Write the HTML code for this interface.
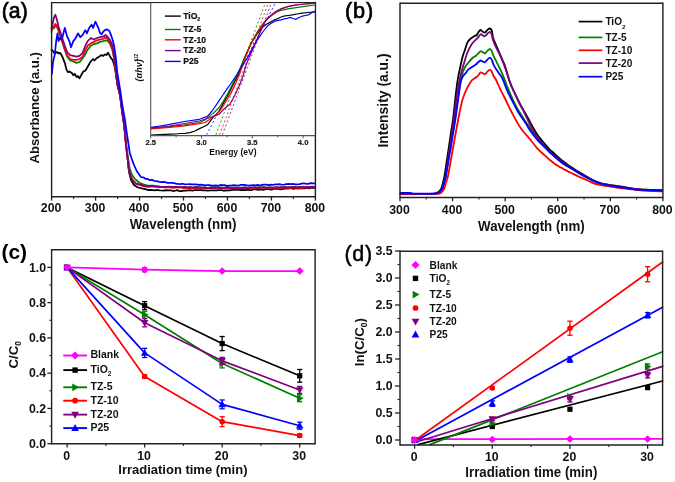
<!DOCTYPE html>
<html><head><meta charset="utf-8"><title>Figure</title><style>html,body{margin:0;padding:0;background:#fff;}body{width:675px;height:482px;overflow:hidden;}svg{display:block;filter:blur(0.3px);}</style></head><body>
<svg width="675" height="482" viewBox="0 0 675 482" font-family='"Liberation Sans", sans-serif'>
<rect x="0" y="0" width="675" height="482" fill="#fff"/>
<g>
<polyline points="51.60,49.70 53.10,51.20 54.70,53.50 57.00,52.00 58.60,53.50 60.10,52.80 62.40,56.70 64.80,62.90 66.30,69.10 67.90,72.20 69.40,71.40 71.80,73.00 73.30,75.30 74.90,73.80 76.40,76.90 78.00,76.10 79.50,78.40 81.10,75.30 83.40,71.40 85.30,70.70 87.70,66.80 90.80,61.30 93.00,59.00 94.50,60.50 96.50,58.20 99.00,56.70 101.50,55.10 103.20,55.90 105.00,54.30 106.50,55.10 108.00,52.80 109.40,55.10 111.00,58.20 112.50,59.80 114.10,64.40 115.70,72.20 117.50,85.00 120.00,95.00 122.00,110.00 124.20,125.00 126.00,145.00 127.80,160.00 129.00,172.00 131.00,180.00 134.00,185.00 138.00,187.50 144.00,188.86 146.20,189.36 148.40,190.09 150.60,189.99 152.80,190.11 155.00,190.26 157.20,189.98 159.40,190.34 161.60,190.50 163.80,190.71 166.00,190.13 168.20,190.38 170.40,190.23 172.60,190.88 174.80,190.77 177.00,190.19 179.20,191.03 181.40,191.02 183.60,190.74 185.80,190.70 188.00,190.27 190.20,190.12 192.40,190.56 194.60,190.12 196.80,190.21 199.00,190.23 201.20,190.02 203.40,190.39 205.60,190.34 207.80,190.68 210.00,190.37 212.20,190.45 214.40,190.30 216.60,190.42 218.80,190.20 221.00,190.01 223.20,190.62 225.40,190.59 227.60,190.42 229.80,190.27 232.00,189.89 234.20,189.78 236.40,189.80 238.60,189.57 240.80,190.17 243.00,189.80 245.20,190.16 247.40,189.70 249.60,190.16 251.80,190.02 254.00,189.21 256.20,189.35 258.40,189.93 260.60,189.49 262.80,189.90 265.00,189.33 267.20,188.99 269.40,189.45 271.60,189.53 273.80,189.00 276.00,188.77 278.20,188.92 280.40,189.42 282.60,189.17 284.80,188.52 287.00,188.57 289.20,188.37 291.40,188.27 293.60,188.86 295.80,188.24 298.00,188.52 300.20,188.35 302.40,188.06 304.60,188.48 306.80,187.88 309.00,188.28 311.20,187.75 313.40,187.96 314.50,188.00" fill="none" stroke="#000000" stroke-width="1.75" stroke-linejoin="round" stroke-linecap="round" />
<polyline points="51.60,32.00 51.90,27.00 53.90,28.50 55.40,25.50 57.00,27.00 58.60,31.00 61.70,40.50 64.80,50.00 67.10,56.50 70.20,60.50 73.30,61.50 76.40,62.90 79.50,62.10 82.70,58.20 85.30,54.30 87.70,49.70 90.80,45.80 93.90,44.20 97.00,43.40 100.10,41.90 103.20,41.10 105.60,40.30 107.90,41.10 110.20,44.20 112.50,50.40 114.10,58.50 115.60,71.50 117.50,85.00 120.00,95.00 122.00,110.00 124.20,125.00 126.00,143.00 127.80,156.00 129.70,168.50 132.00,175.00 134.90,178.80 139.00,182.50 145.00,184.98 147.20,185.43 149.40,185.72 151.60,185.54 153.80,185.70 156.00,186.23 158.20,186.25 160.40,186.83 162.60,186.83 164.80,186.85 167.00,186.91 169.20,187.11 171.40,186.70 173.60,187.01 175.80,186.79 178.00,187.50 180.20,186.77 182.40,187.49 184.60,186.86 186.80,187.45 189.00,187.17 191.20,187.27 193.40,187.70 195.60,186.99 197.80,187.07 200.00,187.87 202.20,187.52 204.40,187.15 206.60,187.97 208.80,187.94 211.00,187.20 213.20,187.49 215.40,187.24 217.60,187.41 219.80,187.70 222.00,187.30 224.20,187.79 226.40,187.22 228.60,187.34 230.80,187.93 233.00,187.57 235.20,187.59 237.40,187.76 239.60,187.66 241.80,187.59 244.00,187.27 246.20,187.88 248.40,188.07 250.60,188.07 252.80,187.77 255.00,187.47 257.20,187.46 259.40,187.74 261.60,187.70 263.80,187.18 266.00,187.27 268.20,187.37 270.40,187.49 272.60,187.74 274.80,187.44 277.00,187.00 279.20,187.70 281.40,187.32 283.60,187.38 285.80,187.08 288.00,187.24 290.20,187.18 292.40,187.50 294.60,186.87 296.80,187.25 299.00,186.89 301.20,187.33 303.40,186.71 305.60,186.90 307.80,186.94 310.00,187.18 312.20,186.62 314.40,186.96 314.50,187.00" fill="none" stroke="#008000" stroke-width="1.75" stroke-linejoin="round" stroke-linecap="round" />
<polyline points="51.60,30.00 51.90,25.60 53.90,27.10 55.40,24.00 57.00,26.00 58.60,30.20 61.70,39.50 64.80,48.90 67.10,55.10 70.20,59.00 73.30,59.80 76.40,59.80 79.50,59.00 82.70,56.70 85.30,50.40 87.70,45.80 90.80,43.40 93.90,41.90 97.00,40.30 100.10,39.50 103.20,38.80 105.60,37.20 107.90,39.50 110.20,42.70 112.50,48.90 114.10,58.00 115.60,71.50 117.50,85.00 120.00,95.00 122.00,110.00 124.20,125.00 126.00,145.00 127.80,160.00 129.00,171.00 132.00,179.50 136.00,184.00 142.00,185.78 144.20,186.39 146.40,186.61 148.60,186.97 150.80,186.56 153.00,186.71 155.20,186.74 157.40,186.92 159.60,187.49 161.80,187.00 164.00,187.40 166.20,187.16 168.40,187.27 170.60,187.44 172.80,187.85 175.00,187.68 177.20,187.19 179.40,187.47 181.60,187.39 183.80,188.09 186.00,188.07 188.20,188.10 190.40,188.15 192.60,188.11 194.80,188.32 197.00,188.22 199.20,187.76 201.40,188.33 203.60,188.03 205.80,188.31 208.00,188.17 210.20,188.08 212.40,188.05 214.60,188.14 216.80,188.03 219.00,187.86 221.20,188.49 223.40,188.47 225.60,188.64 227.80,188.37 230.00,188.25 232.20,188.42 234.40,187.87 236.60,188.36 238.80,188.15 241.00,187.91 243.20,187.93 245.40,188.21 247.60,187.96 249.80,188.14 252.00,188.26 254.20,188.07 256.40,187.82 258.60,188.14 260.80,187.90 263.00,187.89 265.20,187.84 267.40,187.99 269.60,187.72 271.80,188.22 274.00,188.45 276.20,187.91 278.40,188.17 280.60,188.32 282.80,187.48 285.00,187.53 287.20,188.09 289.40,188.09 291.60,187.87 293.80,187.40 296.00,187.59 298.20,187.96 300.40,187.94 302.60,187.80 304.80,187.20 307.00,187.73 309.20,187.23 311.40,187.48 313.60,186.90 314.50,187.20" fill="none" stroke="#ff0000" stroke-width="1.75" stroke-linejoin="round" stroke-linecap="round" />
<polyline points="51.60,28.00 52.30,25.60 53.80,18.00 55.40,14.70 57.00,20.00 58.60,27.10 61.70,36.40 64.80,45.80 67.10,52.00 70.20,55.10 73.30,55.90 76.40,56.70 79.50,55.90 82.70,52.80 85.30,45.80 87.70,41.10 90.80,38.00 93.90,39.50 97.00,38.00 100.10,37.20 103.20,36.40 105.60,34.90 107.90,37.20 110.20,40.30 112.50,45.80 114.10,55.10 115.70,69.10 117.20,83.10 120.00,95.00 122.00,112.00 124.20,126.00 126.00,145.00 127.80,160.00 129.00,171.00 132.00,179.00 136.00,183.50 142.00,184.95 144.20,185.67 146.40,185.82 148.60,186.27 150.80,185.86 153.00,186.02 155.20,186.63 157.40,186.73 159.60,186.59 161.80,187.00 164.00,186.78 166.20,187.17 168.40,186.62 170.60,186.75 172.80,187.40 175.00,186.96 177.20,186.91 179.40,187.44 181.60,187.33 183.80,186.94 186.00,187.34 188.20,187.48 190.40,187.07 192.60,187.55 194.80,187.11 197.00,187.34 199.20,187.15 201.40,187.30 203.60,188.04 205.80,187.56 208.00,188.13 210.20,187.67 212.40,187.86 214.60,188.14 216.80,187.97 219.00,187.45 221.20,187.88 223.40,187.92 225.60,187.51 227.80,187.44 230.00,188.14 232.20,187.81 234.40,187.52 236.60,187.76 238.80,187.55 241.00,188.07 243.20,187.80 245.40,187.42 247.60,188.05 249.80,187.38 252.00,187.54 254.20,187.29 256.40,187.92 258.60,187.34 260.80,187.69 263.00,187.29 265.20,187.62 267.40,187.79 269.60,187.64 271.80,187.55 274.00,187.54 276.20,187.47 278.40,187.58 280.60,187.10 282.80,187.41 285.00,187.17 287.20,187.70 289.40,187.74 291.60,186.92 293.80,186.96 296.00,187.44 298.20,187.29 300.40,186.76 302.60,187.31 304.80,187.47 307.00,186.94 309.20,186.81 311.40,186.95 313.60,187.22 314.50,186.80" fill="none" stroke="#800080" stroke-width="1.75" stroke-linejoin="round" stroke-linecap="round" />
<polyline points="51.90,73.80 53.10,61.30 54.70,55.10 56.20,41.10 57.50,33.30 58.60,41.10 59.60,38.00 60.90,39.50 62.40,37.20 64.80,27.90 67.10,36.40 69.40,41.10 71.00,47.30 73.30,41.10 75.70,38.00 78.00,33.30 80.30,37.20 82.70,34.90 85.30,30.20 86.90,33.30 89.20,27.90 91.60,24.80 93.10,27.90 95.40,21.70 97.00,24.80 98.60,28.70 100.10,33.30 101.70,34.10 103.20,31.80 104.80,30.20 107.10,29.40 109.40,31.00 111.00,34.90 112.50,39.50 114.10,45.80 115.70,56.70 117.20,72.20 120.50,92.00 122.80,108.00 125.00,120.00 126.80,133.00 128.60,145.00 129.80,153.00 131.80,159.00 134.00,165.00 137.00,171.60 141.10,177.22 143.30,177.26 145.50,178.81 147.70,178.92 149.90,180.23 152.10,179.86 154.30,181.00 156.50,181.18 158.70,181.69 160.90,182.14 163.10,181.77 165.30,182.18 167.50,182.83 169.70,182.76 171.90,182.93 174.10,183.06 176.30,183.79 178.50,183.96 180.70,184.06 182.90,183.70 185.10,184.49 187.30,184.25 189.50,184.10 191.70,184.40 193.90,184.46 196.10,184.25 198.30,184.78 200.50,184.69 202.70,184.96 204.90,185.36 207.10,185.18 209.30,185.04 211.50,185.52 213.70,185.72 215.90,185.31 218.10,185.75 220.30,184.95 222.50,185.09 224.70,185.16 226.90,185.88 229.10,185.66 231.30,185.65 233.50,185.23 235.70,185.39 237.90,185.71 240.10,184.98 242.30,184.96 244.50,184.89 246.70,185.27 248.90,185.61 251.10,185.35 253.30,185.21 255.50,185.30 257.70,184.94 259.90,185.55 262.10,184.92 264.30,184.73 266.50,184.70 268.70,185.08 270.90,184.53 273.10,185.00 275.30,184.43 277.50,184.46 279.70,184.07 281.90,184.75 284.10,184.59 286.30,184.23 288.50,183.84 290.70,184.10 292.90,183.93 295.10,184.27 297.30,184.28 299.50,184.03 301.70,183.55 303.90,183.25 306.10,183.94 308.30,183.91 310.50,183.13 312.70,183.36 314.50,183.30" fill="none" stroke="#0000ff" stroke-width="1.75" stroke-linejoin="round" stroke-linecap="round" />
</g>
<line x1="51.60" y1="2.60" x2="315.40" y2="2.60" stroke="#222" stroke-width="1.45" />
<line x1="51.60" y1="196.80" x2="315.40" y2="196.80" stroke="#222" stroke-width="1.45" />
<line x1="51.60" y1="1.80" x2="51.60" y2="197.60" stroke="#222" stroke-width="1.45" />
<line x1="315.40" y1="1.80" x2="315.40" y2="197.60" stroke="#222" stroke-width="1.45" />
<line x1="51.60" y1="196.80" x2="51.60" y2="200.60" stroke="#222" stroke-width="1.3" />
<text x="51.10" y="212.00" font-size="12.3" font-weight="bold" text-anchor="middle" fill="#111" >200</text>
<line x1="95.57" y1="196.80" x2="95.57" y2="200.60" stroke="#222" stroke-width="1.3" />
<text x="95.07" y="212.00" font-size="12.3" font-weight="bold" text-anchor="middle" fill="#111" >300</text>
<line x1="139.53" y1="196.80" x2="139.53" y2="200.60" stroke="#222" stroke-width="1.3" />
<text x="139.03" y="212.00" font-size="12.3" font-weight="bold" text-anchor="middle" fill="#111" >400</text>
<line x1="183.50" y1="196.80" x2="183.50" y2="200.60" stroke="#222" stroke-width="1.3" />
<text x="183.00" y="212.00" font-size="12.3" font-weight="bold" text-anchor="middle" fill="#111" >500</text>
<line x1="227.47" y1="196.80" x2="227.47" y2="200.60" stroke="#222" stroke-width="1.3" />
<text x="226.97" y="212.00" font-size="12.3" font-weight="bold" text-anchor="middle" fill="#111" >600</text>
<line x1="271.43" y1="196.80" x2="271.43" y2="200.60" stroke="#222" stroke-width="1.3" />
<text x="270.93" y="212.00" font-size="12.3" font-weight="bold" text-anchor="middle" fill="#111" >700</text>
<line x1="315.40" y1="196.80" x2="315.40" y2="200.60" stroke="#222" stroke-width="1.3" />
<text x="314.90" y="212.00" font-size="12.3" font-weight="bold" text-anchor="middle" fill="#111" >800</text>
<line x1="73.58" y1="196.80" x2="73.58" y2="199.00" stroke="#222" stroke-width="1.1" />
<line x1="117.55" y1="196.80" x2="117.55" y2="199.00" stroke="#222" stroke-width="1.1" />
<line x1="161.52" y1="196.80" x2="161.52" y2="199.00" stroke="#222" stroke-width="1.1" />
<line x1="205.48" y1="196.80" x2="205.48" y2="199.00" stroke="#222" stroke-width="1.1" />
<line x1="249.45" y1="196.80" x2="249.45" y2="199.00" stroke="#222" stroke-width="1.1" />
<line x1="293.42" y1="196.80" x2="293.42" y2="199.00" stroke="#222" stroke-width="1.1" />
<g transform="translate(183.10,228.70) scale(1,1.09)"><text x="0" y="0" font-size="13.3" font-weight="bold" text-anchor="middle" fill="#111" >Wavelength (nm)</text></g>
<text x="39.20" y="107.90" font-size="13.2" font-weight="bold" text-anchor="middle" fill="#111" transform="rotate(-90 39.2 107.9)">Absorbance (a.u.)</text>
<text x="1.80" y="17.80" font-size="21.2" font-weight="normal" text-anchor="start" fill="#000" stroke="#000" stroke-width="0.7">(a)</text>
<rect x="151.4" y="3.4" width="163.0" height="131.4" fill="#fff"/>
<line x1="206.50" y1="134.80" x2="275.00" y2="3.80" stroke="#0000ff" stroke-width="0.9" stroke-dasharray="2.2,2.2" opacity="0.85"/>
<line x1="215.90" y1="134.80" x2="265.00" y2="3.80" stroke="#008000" stroke-width="0.9" stroke-dasharray="2.2,2.2" opacity="0.85"/>
<line x1="219.60" y1="134.80" x2="268.00" y2="3.80" stroke="#ff0000" stroke-width="0.9" stroke-dasharray="2.2,2.2" opacity="0.85"/>
<line x1="222.40" y1="134.80" x2="271.00" y2="3.80" stroke="#800080" stroke-width="0.9" stroke-dasharray="2.2,2.2" opacity="0.85"/>
<polyline points="151.00,135.10 160.00,134.60 170.00,134.20 176.00,134.00 180.00,133.50 185.00,133.30 190.00,132.60 195.00,131.00 199.00,128.90 203.00,127.00 207.50,124.80 210.00,121.50 213.10,117.30 218.70,111.70 223.00,104.00 228.00,95.00 232.50,86.00 237.40,76.00 241.00,67.00 243.70,59.70 248.00,50.00 252.40,41.00 257.00,34.00 262.40,27.40 266.00,24.50 269.90,22.40 273.50,20.40 277.30,18.70 280.50,17.30 283.50,16.20 288.00,15.50 292.20,14.90 297.00,14.00 302.20,13.10 308.00,12.50 315.00,11.80" fill="none" stroke="#000000" stroke-width="1.2" stroke-linejoin="round" stroke-linecap="round" />
<polyline points="151.00,128.50 169.60,126.60 184.40,124.80 199.30,122.50 205.00,120.00 209.30,116.40 214.00,112.50 218.70,108.00 223.00,101.50 228.00,93.00 232.50,84.00 237.40,74.30 242.00,64.00 246.70,53.70 250.00,45.80 254.00,37.80 258.00,30.80 262.00,25.00 266.00,20.20 270.00,16.40 274.00,13.40 278.00,11.50 281.00,10.40 288.00,8.90 296.00,7.60 305.00,6.30 315.00,5.00" fill="none" stroke="#008000" stroke-width="1.2" stroke-linejoin="round" stroke-linecap="round" />
<polyline points="151.00,128.90 169.60,127.30 184.40,125.90 199.30,123.70 205.00,122.50 211.20,118.20 215.60,114.80 220.60,109.80 225.00,103.00 229.90,94.90 234.50,86.00 239.30,75.00 242.50,65.50 246.00,56.00 250.00,45.50 254.50,37.50 258.70,30.50 262.50,25.00 266.10,20.30 270.00,16.50 273.60,13.90 277.50,11.20 281.00,8.90 288.50,6.30 296.00,4.90 305.00,4.00 315.00,3.50" fill="none" stroke="#ff0000" stroke-width="1.2" stroke-linejoin="round" stroke-linecap="round" />
<polyline points="151.00,128.10 169.60,126.00 184.40,123.50 199.30,121.00 210.00,117.50 218.70,114.50 224.00,109.00 229.90,104.20 235.00,95.00 239.30,85.50 243.00,76.00 246.20,64.70 250.50,54.50 254.70,44.80 258.00,37.00 261.10,30.00 264.90,21.80 268.50,17.50 272.50,14.00 276.50,11.00 281.00,8.90 288.50,6.50 296.00,5.00 305.00,4.00 315.00,3.10" fill="none" stroke="#800080" stroke-width="1.2" stroke-linejoin="round" stroke-linecap="round" />
<polyline points="151.00,127.40 160.00,126.00 169.60,124.40 184.40,121.50 199.30,119.30 207.50,116.40 212.00,111.00 216.80,104.20 221.50,97.00 226.20,90.20 230.50,84.00 234.60,78.00 239.00,71.00 244.00,63.30 248.50,56.00 252.40,48.50 256.00,42.00 259.90,36.10 263.50,31.00 267.40,26.10 271.00,23.50 274.80,21.20 278.00,20.30 281.00,19.90 284.80,18.70 287.00,18.50 289.80,17.40 293.00,18.50 296.00,19.30 299.00,17.50 302.20,16.20 305.50,15.50 308.40,14.90 312.00,12.50 315.00,11.20" fill="none" stroke="#0000ff" stroke-width="1.2" stroke-linejoin="round" stroke-linecap="round" />
<line x1="150.70" y1="2.60" x2="150.70" y2="136.10" stroke="#555" stroke-width="1.1" />
<line x1="150.70" y1="135.60" x2="315.20" y2="135.60" stroke="#555" stroke-width="1.1" />
<line x1="150.70" y1="135.60" x2="150.70" y2="138.40" stroke="#555" stroke-width="1.0" />
<text x="150.70" y="145.10" font-size="7.6" font-weight="bold" text-anchor="middle" fill="#111" stroke="#111" stroke-width="0.15">2.5</text>
<line x1="201.50" y1="135.60" x2="201.50" y2="138.40" stroke="#555" stroke-width="1.0" />
<text x="201.50" y="145.10" font-size="7.6" font-weight="bold" text-anchor="middle" fill="#111" stroke="#111" stroke-width="0.15">3.0</text>
<line x1="252.30" y1="135.60" x2="252.30" y2="138.40" stroke="#555" stroke-width="1.0" />
<text x="252.30" y="145.10" font-size="7.6" font-weight="bold" text-anchor="middle" fill="#111" stroke="#111" stroke-width="0.15">3.5</text>
<line x1="303.10" y1="135.60" x2="303.10" y2="138.40" stroke="#555" stroke-width="1.0" />
<text x="303.10" y="145.10" font-size="7.6" font-weight="bold" text-anchor="middle" fill="#111" stroke="#111" stroke-width="0.15">4.0</text>
<line x1="176.10" y1="135.60" x2="176.10" y2="137.40" stroke="#555" stroke-width="0.9" />
<line x1="226.90" y1="135.60" x2="226.90" y2="137.40" stroke="#555" stroke-width="0.9" />
<line x1="277.70" y1="135.60" x2="277.70" y2="137.40" stroke="#555" stroke-width="0.9" />
<text x="232.90" y="154.90" font-size="8.5" font-weight="bold" text-anchor="middle" fill="#111" >Energy (eV)</text>
<text x="142.0" y="81.4" font-size="9" font-weight="bold" font-style="italic" fill="#111" transform="rotate(-90 142.0 81.4)">(&#945;h&#957;)<tspan dy="-3.6" dx="-1.6" font-size="5.0" font-style="normal">1/2</tspan></text>
<line x1="164.90" y1="16.10" x2="180.70" y2="16.10" stroke="#000000" stroke-width="1.4" />
<text x="183.20" y="18.80" font-size="8.6" font-weight="bold" text-anchor="start" fill="#111" stroke="#111" stroke-width="0.2">TiO<tspan dy="2.2" font-size="5">2</tspan></text>
<line x1="164.90" y1="29.50" x2="180.70" y2="29.50" stroke="#008000" stroke-width="1.4" />
<text x="183.20" y="32.20" font-size="8.6" font-weight="bold" text-anchor="start" fill="#111" stroke="#111" stroke-width="0.2">TZ-5</text>
<line x1="164.90" y1="39.80" x2="180.70" y2="39.80" stroke="#ff0000" stroke-width="1.4" />
<text x="183.20" y="42.50" font-size="8.6" font-weight="bold" text-anchor="start" fill="#111" stroke="#111" stroke-width="0.2">TZ-10</text>
<line x1="164.90" y1="50.60" x2="180.70" y2="50.60" stroke="#800080" stroke-width="1.4" />
<text x="183.20" y="53.30" font-size="8.6" font-weight="bold" text-anchor="start" fill="#111" stroke="#111" stroke-width="0.2">TZ-20</text>
<line x1="164.90" y1="61.40" x2="180.70" y2="61.40" stroke="#0000ff" stroke-width="1.4" />
<text x="183.20" y="64.10" font-size="8.6" font-weight="bold" text-anchor="start" fill="#111" stroke="#111" stroke-width="0.2">P25</text>
<path d="M400.50,193.80 C405.42,193.80 424.25,193.83 430.00,193.80 C435.75,193.77 433.78,193.77 435.00,193.60 C436.22,193.43 436.55,193.20 437.30,192.80 C438.05,192.40 438.78,192.03 439.50,191.20 C440.22,190.37 441.02,189.25 441.60,187.80 C442.18,186.35 442.52,184.47 443.00,182.50 C443.48,180.53 443.88,179.50 444.50,176.00 C445.12,172.50 445.97,166.33 446.70,161.50 C447.43,156.67 448.18,151.83 448.90,147.00 C449.62,142.17 450.28,137.33 451.00,132.50 C451.72,127.67 452.50,123.50 453.20,118.00 C453.90,112.50 454.48,105.65 455.20,99.50 C455.92,93.35 456.72,86.25 457.50,81.10 C458.28,75.95 459.08,72.55 459.90,68.60 C460.72,64.65 461.57,60.50 462.40,57.40 C463.23,54.30 464.05,52.50 464.90,50.00 C465.75,47.50 466.55,44.28 467.50,42.40 C468.45,40.52 469.47,39.73 470.60,38.70 C471.73,37.67 473.27,36.82 474.30,36.20 C475.33,35.58 476.07,35.73 476.80,35.00 C477.53,34.27 478.07,32.63 478.70,31.80 C479.33,30.97 479.98,30.05 480.60,30.00 C481.22,29.95 481.68,31.08 482.40,31.50 C483.12,31.92 484.07,32.75 484.90,32.50 C485.73,32.25 486.57,30.67 487.40,30.00 C488.23,29.33 489.17,28.40 489.90,28.50 C490.63,28.60 491.28,29.12 491.80,30.60 C492.32,32.08 492.48,35.43 493.00,37.40 C493.52,39.37 493.97,40.12 494.90,42.40 C495.83,44.68 497.35,48.18 498.60,51.10 C499.85,54.02 501.33,57.40 502.40,59.90 C503.47,62.40 503.90,62.78 505.00,66.10 C506.10,69.42 507.83,76.23 509.00,79.80 C510.17,83.37 510.95,85.08 512.00,87.50 C513.05,89.92 514.22,92.05 515.30,94.30 C516.38,96.55 517.47,98.92 518.50,101.00 C519.53,103.08 520.50,104.97 521.50,106.80 C522.50,108.63 523.32,109.92 524.50,112.00 C525.68,114.08 527.18,116.72 528.60,119.30 C530.02,121.88 531.57,124.98 533.00,127.50 C534.43,130.02 535.78,132.32 537.20,134.40 C538.62,136.48 540.07,138.22 541.50,140.00 C542.93,141.78 544.38,143.47 545.80,145.10 C547.22,146.73 548.57,148.37 550.00,149.80 C551.43,151.23 552.98,152.42 554.40,153.70 C555.82,154.98 557.07,156.25 558.50,157.50 C559.93,158.75 561.42,159.95 563.00,161.20 C564.58,162.45 566.22,163.75 568.00,165.00 C569.78,166.25 571.87,167.53 573.70,168.70 C575.53,169.87 577.22,170.92 579.00,172.00 C580.78,173.08 582.57,174.12 584.40,175.20 C586.23,176.28 588.20,177.50 590.00,178.50 C591.80,179.50 593.45,180.45 595.20,181.20 C596.95,181.95 598.72,182.50 600.50,183.00 C602.28,183.50 604.15,183.83 605.90,184.20 C607.65,184.57 609.20,184.92 611.00,185.20 C612.80,185.48 613.97,185.50 616.70,185.90 C619.43,186.30 623.82,187.05 627.40,187.60 C630.98,188.15 634.43,188.83 638.20,189.20 C641.97,189.57 646.03,189.63 650.00,189.80 C653.97,189.97 660.00,190.13 662.00,190.20" fill="none" stroke="#000000" stroke-width="1.8" stroke-linejoin="round" stroke-linecap="round" />
<path d="M400.50,193.90 C405.42,193.90 424.08,193.93 430.00,193.90 C435.92,193.87 434.58,193.85 436.00,193.70 C437.42,193.55 437.67,193.42 438.50,193.00 C439.33,192.58 440.25,192.07 441.00,191.20 C441.75,190.33 442.42,189.33 443.00,187.80 C443.58,186.27 444.00,183.97 444.50,182.00 C445.00,180.03 445.38,179.42 446.00,176.00 C446.62,172.58 447.47,166.33 448.20,161.50 C448.93,156.67 449.67,151.83 450.40,147.00 C451.13,142.17 451.87,137.33 452.60,132.50 C453.33,127.67 454.07,122.75 454.80,118.00 C455.53,113.25 456.30,108.67 457.00,104.00 C457.70,99.33 458.30,94.43 459.00,90.00 C459.70,85.57 460.22,81.17 461.20,77.40 C462.18,73.63 463.65,69.92 464.90,67.40 C466.15,64.88 467.43,63.87 468.70,62.30 C469.97,60.73 471.25,59.13 472.50,58.00 C473.75,56.87 475.17,56.33 476.20,55.50 C477.23,54.67 477.97,53.73 478.70,53.00 C479.43,52.27 479.87,51.20 480.60,51.10 C481.33,51.00 482.38,52.02 483.10,52.40 C483.82,52.78 484.18,53.65 484.90,53.40 C485.62,53.15 486.57,51.65 487.40,50.90 C488.23,50.15 489.17,48.87 489.90,48.90 C490.63,48.93 491.18,49.90 491.80,51.10 C492.42,52.30 492.67,54.02 493.60,56.10 C494.53,58.18 496.15,61.10 497.40,63.60 C498.65,66.10 499.97,68.62 501.10,71.10 C502.23,73.58 503.22,76.02 504.20,78.50 C505.18,80.98 506.03,83.58 507.00,86.00 C507.97,88.42 508.97,90.58 510.00,93.00 C511.03,95.42 512.03,98.00 513.20,100.50 C514.37,103.00 515.62,105.57 517.00,108.00 C518.38,110.43 520.08,112.85 521.50,115.10 C522.92,117.35 524.12,119.43 525.50,121.50 C526.88,123.57 528.55,125.67 529.80,127.50 C531.05,129.33 531.77,130.75 533.00,132.50 C534.23,134.25 535.78,136.25 537.20,138.00 C538.62,139.75 540.07,141.37 541.50,143.00 C542.93,144.63 544.38,146.25 545.80,147.80 C547.22,149.35 548.57,150.90 550.00,152.30 C551.43,153.70 552.98,154.95 554.40,156.20 C555.82,157.45 557.07,158.63 558.50,159.80 C559.93,160.97 561.42,162.07 563.00,163.20 C564.58,164.33 566.22,165.48 568.00,166.60 C569.78,167.72 571.87,168.80 573.70,169.90 C575.53,171.00 577.22,172.13 579.00,173.20 C580.78,174.27 582.57,175.32 584.40,176.30 C586.23,177.28 588.20,178.22 590.00,179.10 C591.80,179.98 593.45,180.88 595.20,181.60 C596.95,182.32 598.72,182.88 600.50,183.40 C602.28,183.92 603.20,184.17 605.90,184.70 C608.60,185.23 613.12,186.00 616.70,186.60 C620.28,187.20 623.82,187.77 627.40,188.30 C630.98,188.83 634.43,189.43 638.20,189.80 C641.97,190.17 646.03,190.32 650.00,190.50 C653.97,190.68 660.00,190.83 662.00,190.90" fill="none" stroke="#008000" stroke-width="1.8" stroke-linejoin="round" stroke-linecap="round" />
<path d="M400.50,194.10 C405.42,194.10 423.92,194.13 430.00,194.10 C436.08,194.07 435.30,194.03 437.00,193.90 C438.70,193.77 439.28,193.70 440.20,193.30 C441.12,192.90 441.78,192.42 442.50,191.50 C443.22,190.58 443.88,189.38 444.50,187.80 C445.12,186.22 445.62,183.97 446.20,182.00 C446.78,180.03 447.27,179.42 448.00,176.00 C448.73,172.58 449.73,166.33 450.60,161.50 C451.47,156.67 452.33,151.83 453.20,147.00 C454.07,142.17 454.92,137.33 455.80,132.50 C456.68,127.67 457.72,122.08 458.50,118.00 C459.28,113.92 459.85,111.00 460.50,108.00 C461.15,105.00 461.45,103.03 462.40,100.00 C463.35,96.97 464.73,92.95 466.20,89.80 C467.67,86.65 470.15,82.77 471.20,81.10 C472.25,79.43 471.67,80.43 472.50,79.80 C473.33,79.17 475.17,78.13 476.20,77.30 C477.23,76.47 477.97,75.63 478.70,74.80 C479.43,73.97 479.87,72.52 480.60,72.30 C481.33,72.08 482.38,73.18 483.10,73.50 C483.82,73.82 484.18,74.50 484.90,74.20 C485.62,73.90 486.57,72.47 487.40,71.70 C488.23,70.93 489.17,69.60 489.90,69.60 C490.63,69.60 491.18,70.63 491.80,71.70 C492.42,72.77 492.88,74.62 493.60,76.00 C494.32,77.38 494.92,77.63 496.10,80.00 C497.28,82.37 499.38,87.45 500.70,90.20 C502.02,92.95 502.95,94.43 504.00,96.50 C505.05,98.57 506.00,100.52 507.00,102.60 C508.00,104.68 508.97,106.92 510.00,109.00 C511.03,111.08 512.03,112.93 513.20,115.10 C514.37,117.27 515.78,119.88 517.00,122.00 C518.22,124.12 519.25,125.97 520.50,127.80 C521.75,129.63 523.15,131.37 524.50,133.00 C525.85,134.63 527.18,135.93 528.60,137.60 C530.02,139.27 531.57,141.22 533.00,143.00 C534.43,144.78 535.78,146.72 537.20,148.30 C538.62,149.88 540.07,151.17 541.50,152.50 C542.93,153.83 544.38,155.05 545.80,156.30 C547.22,157.55 548.57,158.82 550.00,160.00 C551.43,161.18 552.98,162.37 554.40,163.40 C555.82,164.43 557.07,165.32 558.50,166.20 C559.93,167.08 561.42,167.82 563.00,168.70 C564.58,169.58 566.22,170.60 568.00,171.50 C569.78,172.40 571.87,173.23 573.70,174.10 C575.53,174.97 577.22,175.87 579.00,176.70 C580.78,177.53 582.57,178.28 584.40,179.10 C586.23,179.92 588.20,180.82 590.00,181.60 C591.80,182.38 593.45,183.23 595.20,183.80 C596.95,184.37 598.72,184.65 600.50,185.00 C602.28,185.35 603.20,185.48 605.90,185.90 C608.60,186.32 613.12,187.02 616.70,187.50 C620.28,187.98 623.82,188.38 627.40,188.80 C630.98,189.22 634.43,189.67 638.20,190.00 C641.97,190.33 646.03,190.58 650.00,190.80 C653.97,191.02 660.00,191.22 662.00,191.30" fill="none" stroke="#ff0000" stroke-width="1.8" stroke-linejoin="round" stroke-linecap="round" />
<path d="M400.50,193.90 C405.42,193.90 424.17,193.93 430.00,193.90 C435.83,193.87 434.17,193.85 435.50,193.70 C436.83,193.55 437.17,193.42 438.00,193.00 C438.83,192.58 439.75,192.07 440.50,191.20 C441.25,190.33 441.92,189.33 442.50,187.80 C443.08,186.27 443.50,183.97 444.00,182.00 C444.50,180.03 444.88,179.42 445.50,176.00 C446.12,172.58 446.97,166.33 447.70,161.50 C448.43,156.67 449.18,151.83 449.90,147.00 C450.62,142.17 451.28,137.33 452.00,132.50 C452.72,127.67 453.50,123.42 454.20,118.00 C454.90,112.58 455.35,106.15 456.20,100.00 C457.05,93.85 458.27,86.33 459.30,81.10 C460.33,75.87 461.45,72.13 462.40,68.60 C463.35,65.07 464.15,62.60 465.00,59.90 C465.85,57.20 466.47,54.90 467.50,52.40 C468.53,49.90 469.95,46.88 471.20,44.90 C472.45,42.92 473.85,41.75 475.00,40.50 C476.15,39.25 477.17,38.43 478.10,37.40 C479.03,36.37 479.77,34.60 480.60,34.30 C481.43,34.00 482.38,35.28 483.10,35.60 C483.82,35.92 484.18,36.52 484.90,36.20 C485.62,35.88 486.57,34.43 487.40,33.70 C488.23,32.97 489.23,31.80 489.90,31.80 C490.57,31.80 490.88,32.35 491.40,33.70 C491.92,35.05 492.22,37.62 493.00,39.90 C493.78,42.18 494.95,44.90 496.10,47.40 C497.25,49.90 498.65,52.20 499.90,54.90 C501.15,57.60 502.42,60.58 503.60,63.60 C504.78,66.62 505.93,69.93 507.00,73.00 C508.07,76.07 509.00,79.25 510.00,82.00 C511.00,84.75 511.92,87.00 513.00,89.50 C514.08,92.00 515.33,94.50 516.50,97.00 C517.67,99.50 518.75,102.00 520.00,104.50 C521.25,107.00 522.57,109.17 524.00,112.00 C525.43,114.83 527.10,118.50 528.60,121.50 C530.10,124.50 531.57,127.42 533.00,130.00 C534.43,132.58 535.78,134.92 537.20,137.00 C538.62,139.08 540.07,140.75 541.50,142.50 C542.93,144.25 544.38,145.92 545.80,147.50 C547.22,149.08 548.57,150.62 550.00,152.00 C551.43,153.38 552.98,154.60 554.40,155.80 C555.82,157.00 557.07,158.07 558.50,159.20 C559.93,160.33 561.42,161.47 563.00,162.60 C564.58,163.73 566.22,164.85 568.00,166.00 C569.78,167.15 571.87,168.37 573.70,169.50 C575.53,170.63 577.22,171.72 579.00,172.80 C580.78,173.88 582.57,174.97 584.40,176.00 C586.23,177.03 588.20,178.08 590.00,179.00 C591.80,179.92 593.45,180.78 595.20,181.50 C596.95,182.22 598.72,182.78 600.50,183.30 C602.28,183.82 603.20,184.07 605.90,184.60 C608.60,185.13 613.12,185.90 616.70,186.50 C620.28,187.10 623.82,187.67 627.40,188.20 C630.98,188.73 634.43,189.35 638.20,189.70 C641.97,190.05 646.03,190.13 650.00,190.30 C653.97,190.47 660.00,190.63 662.00,190.70" fill="none" stroke="#800080" stroke-width="1.8" stroke-linejoin="round" stroke-linecap="round" />
<path d="M400.50,193.00 C402.08,193.00 407.58,192.90 410.00,193.00 C412.42,193.10 411.67,193.50 415.00,193.60 C418.33,193.70 426.67,193.63 430.00,193.60 C433.33,193.57 433.75,193.57 435.00,193.40 C436.25,193.23 436.67,193.00 437.50,192.60 C438.33,192.20 439.17,191.80 440.00,191.00 C440.83,190.20 441.83,189.30 442.50,187.80 C443.17,186.30 443.45,183.97 444.00,182.00 C444.55,180.03 445.10,179.42 445.80,176.00 C446.50,172.58 447.35,166.33 448.20,161.50 C449.05,156.67 450.07,151.83 450.90,147.00 C451.73,142.17 452.42,137.33 453.20,132.50 C453.98,127.67 454.78,123.42 455.60,118.00 C456.42,112.58 457.17,106.35 458.10,100.00 C459.03,93.65 459.85,84.50 461.20,79.90 C462.55,75.30 464.95,74.18 466.20,72.40 C467.45,70.62 467.65,70.15 468.70,69.20 C469.75,68.25 471.25,67.53 472.50,66.70 C473.75,65.87 475.17,65.03 476.20,64.20 C477.23,63.37 477.97,62.32 478.70,61.70 C479.43,61.08 479.87,60.50 480.60,60.50 C481.33,60.50 482.38,61.40 483.10,61.70 C483.82,62.00 484.18,62.65 484.90,62.30 C485.62,61.95 486.57,60.38 487.40,59.60 C488.23,58.82 489.17,57.55 489.90,57.60 C490.63,57.65 491.18,58.70 491.80,59.90 C492.42,61.10 492.67,62.93 493.60,64.80 C494.53,66.67 495.93,68.82 497.40,71.10 C498.87,73.38 500.80,75.32 502.40,78.50 C504.00,81.68 505.73,87.20 507.00,90.20 C508.27,93.20 508.97,94.43 510.00,96.50 C511.03,98.57 512.03,100.35 513.20,102.60 C514.37,104.85 515.62,107.58 517.00,110.00 C518.38,112.42 520.08,114.93 521.50,117.10 C522.92,119.27 524.28,121.10 525.50,123.00 C526.72,124.90 527.55,126.58 528.80,128.50 C530.05,130.42 531.60,132.63 533.00,134.50 C534.40,136.37 535.78,138.08 537.20,139.70 C538.62,141.32 540.07,142.77 541.50,144.20 C542.93,145.63 544.38,146.92 545.80,148.30 C547.22,149.68 548.57,151.17 550.00,152.50 C551.43,153.83 552.98,155.05 554.40,156.30 C555.82,157.55 557.07,158.82 558.50,160.00 C559.93,161.18 561.42,162.30 563.00,163.40 C564.58,164.50 566.22,165.53 568.00,166.60 C569.78,167.67 571.87,168.73 573.70,169.80 C575.53,170.87 577.22,171.92 579.00,173.00 C580.78,174.08 582.57,175.30 584.40,176.30 C586.23,177.30 588.20,178.12 590.00,179.00 C591.80,179.88 593.45,180.85 595.20,181.60 C596.95,182.35 598.72,182.97 600.50,183.50 C602.28,184.03 603.20,184.28 605.90,184.80 C608.60,185.32 613.12,186.03 616.70,186.60 C620.28,187.17 623.82,187.70 627.40,188.20 C630.98,188.70 634.43,189.27 638.20,189.60 C641.97,189.93 646.03,190.05 650.00,190.20 C653.97,190.35 660.00,190.45 662.00,190.50" fill="none" stroke="#0000ff" stroke-width="1.8" stroke-linejoin="round" stroke-linecap="round" />
<line x1="400.00" y1="3.30" x2="662.90" y2="3.30" stroke="#222" stroke-width="1.45" />
<line x1="400.00" y1="197.40" x2="662.90" y2="197.40" stroke="#222" stroke-width="1.45" />
<line x1="400.00" y1="2.50" x2="400.00" y2="198.20" stroke="#222" stroke-width="1.45" />
<line x1="662.90" y1="2.50" x2="662.90" y2="198.20" stroke="#222" stroke-width="1.45" />
<line x1="400.00" y1="197.40" x2="400.00" y2="201.20" stroke="#222" stroke-width="1.3" />
<text x="399.50" y="214.00" font-size="12.3" font-weight="bold" text-anchor="middle" fill="#111" >300</text>
<line x1="452.58" y1="197.40" x2="452.58" y2="201.20" stroke="#222" stroke-width="1.3" />
<text x="452.08" y="214.00" font-size="12.3" font-weight="bold" text-anchor="middle" fill="#111" >400</text>
<line x1="505.16" y1="197.40" x2="505.16" y2="201.20" stroke="#222" stroke-width="1.3" />
<text x="504.66" y="214.00" font-size="12.3" font-weight="bold" text-anchor="middle" fill="#111" >500</text>
<line x1="557.74" y1="197.40" x2="557.74" y2="201.20" stroke="#222" stroke-width="1.3" />
<text x="557.24" y="214.00" font-size="12.3" font-weight="bold" text-anchor="middle" fill="#111" >600</text>
<line x1="610.32" y1="197.40" x2="610.32" y2="201.20" stroke="#222" stroke-width="1.3" />
<text x="609.82" y="214.00" font-size="12.3" font-weight="bold" text-anchor="middle" fill="#111" >700</text>
<line x1="662.90" y1="197.40" x2="662.90" y2="201.20" stroke="#222" stroke-width="1.3" />
<text x="662.40" y="214.00" font-size="12.3" font-weight="bold" text-anchor="middle" fill="#111" >800</text>
<line x1="426.29" y1="197.40" x2="426.29" y2="199.60" stroke="#222" stroke-width="1.1" />
<line x1="478.87" y1="197.40" x2="478.87" y2="199.60" stroke="#222" stroke-width="1.1" />
<line x1="531.45" y1="197.40" x2="531.45" y2="199.60" stroke="#222" stroke-width="1.1" />
<line x1="584.03" y1="197.40" x2="584.03" y2="199.60" stroke="#222" stroke-width="1.1" />
<line x1="636.61" y1="197.40" x2="636.61" y2="199.60" stroke="#222" stroke-width="1.1" />
<g transform="translate(531.40,230.90) scale(1,1.09)"><text x="0" y="0" font-size="13.3" font-weight="bold" text-anchor="middle" fill="#111" >Wavelength (nm)</text></g>
<text x="388.00" y="100.50" font-size="13.9" font-weight="bold" text-anchor="middle" fill="#111" transform="rotate(-90 388.0 100.5)">Intensity (a.u.)</text>
<text x="345.00" y="18.30" font-size="21.7" font-weight="normal" text-anchor="start" fill="#000" stroke="#000" stroke-width="0.7" letter-spacing="0.8">(b)</text>
<line x1="578.60" y1="21.60" x2="602.40" y2="21.60" stroke="#000000" stroke-width="1.7" />
<text x="605.40" y="25.30" font-size="10.1" font-weight="bold" text-anchor="start" fill="#111" >TiO<tspan dy="3.4" font-size="6.2">2</tspan></text>
<line x1="578.60" y1="37.40" x2="602.40" y2="37.40" stroke="#008000" stroke-width="1.7" />
<text x="605.40" y="41.10" font-size="10.1" font-weight="bold" text-anchor="start" fill="#111" >TZ-5</text>
<line x1="578.60" y1="50.30" x2="602.40" y2="50.30" stroke="#ff0000" stroke-width="1.7" />
<text x="605.40" y="54.00" font-size="10.1" font-weight="bold" text-anchor="start" fill="#111" >TZ-10</text>
<line x1="578.60" y1="63.10" x2="602.40" y2="63.10" stroke="#800080" stroke-width="1.7" />
<text x="605.40" y="66.80" font-size="10.1" font-weight="bold" text-anchor="start" fill="#111" >TZ-20</text>
<line x1="578.60" y1="76.70" x2="602.40" y2="76.70" stroke="#0000ff" stroke-width="1.7" />
<text x="605.40" y="80.40" font-size="10.1" font-weight="bold" text-anchor="start" fill="#111" >P25</text>
<polyline points="67.10,267.40 144.63,305.66 222.16,343.56 299.69,375.82" fill="none" stroke="#000000" stroke-width="1.7" stroke-linejoin="round" stroke-linecap="round" />
<polyline points="67.10,267.40 144.63,314.82 222.16,363.48 299.69,398.21" fill="none" stroke="#008000" stroke-width="1.7" stroke-linejoin="round" stroke-linecap="round" />
<polyline points="67.10,267.40 144.63,376.53 222.16,421.66 299.69,435.59" fill="none" stroke="#ff0000" stroke-width="1.7" stroke-linejoin="round" stroke-linecap="round" />
<polyline points="67.10,267.40 144.63,322.76 222.16,360.84 299.69,389.93" fill="none" stroke="#800080" stroke-width="1.7" stroke-linejoin="round" stroke-linecap="round" />
<polyline points="67.10,267.40 144.63,352.91 222.16,404.39 299.69,425.72" fill="none" stroke="#0000ff" stroke-width="1.7" stroke-linejoin="round" stroke-linecap="round" />
<polyline points="67.10,267.40 144.63,269.69 222.16,271.10 299.69,271.10" fill="none" stroke="#ff00ff" stroke-width="1.7" stroke-linejoin="round" stroke-linecap="round" />
<rect x="64.49" y="264.79" width="5.22" height="5.22" fill="#000000"/>
<line x1="144.63" y1="301.60" x2="144.63" y2="309.71" stroke="#000000" stroke-width="1.3" />
<line x1="142.03" y1="301.60" x2="147.23" y2="301.60" stroke="#000000" stroke-width="1.3" />
<line x1="142.03" y1="309.71" x2="147.23" y2="309.71" stroke="#000000" stroke-width="1.3" />
<rect x="142.02" y="303.05" width="5.22" height="5.22" fill="#000000"/>
<line x1="222.16" y1="336.51" x2="222.16" y2="350.61" stroke="#000000" stroke-width="1.3" />
<line x1="219.56" y1="336.51" x2="224.76" y2="336.51" stroke="#000000" stroke-width="1.3" />
<line x1="219.56" y1="350.61" x2="224.76" y2="350.61" stroke="#000000" stroke-width="1.3" />
<rect x="219.55" y="340.95" width="5.22" height="5.22" fill="#000000"/>
<line x1="299.69" y1="369.48" x2="299.69" y2="382.17" stroke="#000000" stroke-width="1.3" />
<line x1="297.09" y1="369.48" x2="302.29" y2="369.48" stroke="#000000" stroke-width="1.3" />
<line x1="297.09" y1="382.17" x2="302.29" y2="382.17" stroke="#000000" stroke-width="1.3" />
<rect x="297.08" y="373.21" width="5.22" height="5.22" fill="#000000"/>
<polygon points="71.02,267.40 64.36,263.68 64.36,271.12" fill="#008000"/>
<line x1="144.63" y1="311.30" x2="144.63" y2="318.35" stroke="#008000" stroke-width="1.3" />
<line x1="142.03" y1="311.30" x2="147.23" y2="311.30" stroke="#008000" stroke-width="1.3" />
<line x1="142.03" y1="318.35" x2="147.23" y2="318.35" stroke="#008000" stroke-width="1.3" />
<polygon points="148.54,314.82 141.89,311.11 141.89,318.54" fill="#008000"/>
<line x1="222.16" y1="359.08" x2="222.16" y2="367.89" stroke="#008000" stroke-width="1.3" />
<line x1="219.56" y1="359.08" x2="224.76" y2="359.08" stroke="#008000" stroke-width="1.3" />
<line x1="219.56" y1="367.89" x2="224.76" y2="367.89" stroke="#008000" stroke-width="1.3" />
<polygon points="226.07,363.48 219.42,359.76 219.42,367.20" fill="#008000"/>
<line x1="299.69" y1="394.69" x2="299.69" y2="401.74" stroke="#008000" stroke-width="1.3" />
<line x1="297.09" y1="394.69" x2="302.29" y2="394.69" stroke="#008000" stroke-width="1.3" />
<line x1="297.09" y1="401.74" x2="302.29" y2="401.74" stroke="#008000" stroke-width="1.3" />
<polygon points="303.61,398.21 296.95,394.50 296.95,401.93" fill="#008000"/>
<circle cx="67.10" cy="267.40" r="2.75" fill="#ff0000"/>
<line x1="144.63" y1="374.77" x2="144.63" y2="378.29" stroke="#ff0000" stroke-width="1.3" />
<line x1="142.03" y1="374.77" x2="147.23" y2="374.77" stroke="#ff0000" stroke-width="1.3" />
<line x1="142.03" y1="378.29" x2="147.23" y2="378.29" stroke="#ff0000" stroke-width="1.3" />
<circle cx="144.63" cy="376.53" r="2.75" fill="#ff0000"/>
<line x1="222.16" y1="416.73" x2="222.16" y2="426.60" stroke="#ff0000" stroke-width="1.3" />
<line x1="219.56" y1="416.73" x2="224.76" y2="416.73" stroke="#ff0000" stroke-width="1.3" />
<line x1="219.56" y1="426.60" x2="224.76" y2="426.60" stroke="#ff0000" stroke-width="1.3" />
<circle cx="222.16" cy="421.66" r="2.75" fill="#ff0000"/>
<line x1="299.69" y1="433.83" x2="299.69" y2="437.35" stroke="#ff0000" stroke-width="1.3" />
<line x1="297.09" y1="433.83" x2="302.29" y2="433.83" stroke="#ff0000" stroke-width="1.3" />
<line x1="297.09" y1="437.35" x2="302.29" y2="437.35" stroke="#ff0000" stroke-width="1.3" />
<circle cx="299.69" cy="435.59" r="2.75" fill="#ff0000"/>
<polygon points="67.10,271.31 70.82,264.66 63.38,264.66" fill="#800080"/>
<line x1="144.63" y1="318.70" x2="144.63" y2="326.81" stroke="#800080" stroke-width="1.3" />
<line x1="142.03" y1="318.70" x2="147.23" y2="318.70" stroke="#800080" stroke-width="1.3" />
<line x1="142.03" y1="326.81" x2="147.23" y2="326.81" stroke="#800080" stroke-width="1.3" />
<polygon points="144.63,326.67 148.35,320.02 140.91,320.02" fill="#800080"/>
<line x1="222.16" y1="357.31" x2="222.16" y2="364.37" stroke="#800080" stroke-width="1.3" />
<line x1="219.56" y1="357.31" x2="224.76" y2="357.31" stroke="#800080" stroke-width="1.3" />
<line x1="219.56" y1="364.37" x2="224.76" y2="364.37" stroke="#800080" stroke-width="1.3" />
<polygon points="222.16,364.75 225.88,358.10 218.44,358.10" fill="#800080"/>
<line x1="299.69" y1="386.40" x2="299.69" y2="393.45" stroke="#800080" stroke-width="1.3" />
<line x1="297.09" y1="386.40" x2="302.29" y2="386.40" stroke="#800080" stroke-width="1.3" />
<line x1="297.09" y1="393.45" x2="302.29" y2="393.45" stroke="#800080" stroke-width="1.3" />
<polygon points="299.69,393.84 303.41,387.19 295.97,387.19" fill="#800080"/>
<polygon points="67.10,263.48 70.82,270.14 63.38,270.14" fill="#0000ff"/>
<line x1="144.63" y1="348.32" x2="144.63" y2="357.49" stroke="#0000ff" stroke-width="1.3" />
<line x1="142.03" y1="348.32" x2="147.23" y2="348.32" stroke="#0000ff" stroke-width="1.3" />
<line x1="142.03" y1="357.49" x2="147.23" y2="357.49" stroke="#0000ff" stroke-width="1.3" />
<polygon points="144.63,348.99 148.35,355.65 140.91,355.65" fill="#0000ff"/>
<line x1="222.16" y1="399.98" x2="222.16" y2="408.79" stroke="#0000ff" stroke-width="1.3" />
<line x1="219.56" y1="399.98" x2="224.76" y2="399.98" stroke="#0000ff" stroke-width="1.3" />
<line x1="219.56" y1="408.79" x2="224.76" y2="408.79" stroke="#0000ff" stroke-width="1.3" />
<polygon points="222.16,400.47 225.88,407.13 218.44,407.13" fill="#0000ff"/>
<line x1="299.69" y1="422.19" x2="299.69" y2="429.24" stroke="#0000ff" stroke-width="1.3" />
<line x1="297.09" y1="422.19" x2="302.29" y2="422.19" stroke="#0000ff" stroke-width="1.3" />
<line x1="297.09" y1="429.24" x2="302.29" y2="429.24" stroke="#0000ff" stroke-width="1.3" />
<polygon points="299.69,421.80 303.41,428.46 295.97,428.46" fill="#0000ff"/>
<polygon points="67.10,263.63 71.06,267.40 67.10,271.17 63.14,267.40" fill="#ff00ff"/>
<line x1="144.63" y1="267.58" x2="144.63" y2="271.81" stroke="#ff00ff" stroke-width="1.3" />
<line x1="142.03" y1="267.58" x2="147.23" y2="267.58" stroke="#ff00ff" stroke-width="1.3" />
<line x1="142.03" y1="271.81" x2="147.23" y2="271.81" stroke="#ff00ff" stroke-width="1.3" />
<polygon points="144.63,265.92 148.59,269.69 144.63,273.46 140.67,269.69" fill="#ff00ff"/>
<polygon points="222.16,267.33 226.12,271.10 222.16,274.87 218.20,271.10" fill="#ff00ff"/>
<polygon points="299.69,267.33 303.65,271.10 299.69,274.87 295.73,271.10" fill="#ff00ff"/>
<line x1="51.60" y1="249.80" x2="315.10" y2="249.80" stroke="#222" stroke-width="1.45" />
<line x1="51.60" y1="443.70" x2="315.10" y2="443.70" stroke="#222" stroke-width="1.45" />
<line x1="51.60" y1="249.00" x2="51.60" y2="444.50" stroke="#222" stroke-width="1.45" />
<line x1="315.10" y1="249.00" x2="315.10" y2="444.50" stroke="#222" stroke-width="1.45" />
<line x1="47.40" y1="443.70" x2="51.60" y2="443.70" stroke="#222" stroke-width="1.3" />
<text x="46.00" y="448.00" font-size="12.3" font-weight="bold" text-anchor="end" fill="#111" >0.0</text>
<line x1="47.40" y1="408.44" x2="51.60" y2="408.44" stroke="#222" stroke-width="1.3" />
<text x="46.00" y="412.74" font-size="12.3" font-weight="bold" text-anchor="end" fill="#111" >0.2</text>
<line x1="47.40" y1="373.18" x2="51.60" y2="373.18" stroke="#222" stroke-width="1.3" />
<text x="46.00" y="377.48" font-size="12.3" font-weight="bold" text-anchor="end" fill="#111" >0.4</text>
<line x1="47.40" y1="337.92" x2="51.60" y2="337.92" stroke="#222" stroke-width="1.3" />
<text x="46.00" y="342.22" font-size="12.3" font-weight="bold" text-anchor="end" fill="#111" >0.6</text>
<line x1="47.40" y1="302.66" x2="51.60" y2="302.66" stroke="#222" stroke-width="1.3" />
<text x="46.00" y="306.96" font-size="12.3" font-weight="bold" text-anchor="end" fill="#111" >0.8</text>
<line x1="47.40" y1="267.40" x2="51.60" y2="267.40" stroke="#222" stroke-width="1.3" />
<text x="46.00" y="271.70" font-size="12.3" font-weight="bold" text-anchor="end" fill="#111" >1.0</text>
<line x1="49.40" y1="426.07" x2="51.60" y2="426.07" stroke="#222" stroke-width="1.1" />
<line x1="49.40" y1="390.81" x2="51.60" y2="390.81" stroke="#222" stroke-width="1.1" />
<line x1="49.40" y1="355.55" x2="51.60" y2="355.55" stroke="#222" stroke-width="1.1" />
<line x1="49.40" y1="320.29" x2="51.60" y2="320.29" stroke="#222" stroke-width="1.1" />
<line x1="49.40" y1="285.03" x2="51.60" y2="285.03" stroke="#222" stroke-width="1.1" />
<line x1="67.10" y1="443.70" x2="67.10" y2="447.50" stroke="#222" stroke-width="1.3" />
<text x="66.60" y="460.00" font-size="12.3" font-weight="bold" text-anchor="middle" fill="#111" >0</text>
<line x1="144.63" y1="443.70" x2="144.63" y2="447.50" stroke="#222" stroke-width="1.3" />
<text x="144.13" y="460.00" font-size="12.3" font-weight="bold" text-anchor="middle" fill="#111" >10</text>
<line x1="222.16" y1="443.70" x2="222.16" y2="447.50" stroke="#222" stroke-width="1.3" />
<text x="221.66" y="460.00" font-size="12.3" font-weight="bold" text-anchor="middle" fill="#111" >20</text>
<line x1="299.69" y1="443.70" x2="299.69" y2="447.50" stroke="#222" stroke-width="1.3" />
<text x="299.19" y="460.00" font-size="12.3" font-weight="bold" text-anchor="middle" fill="#111" >30</text>
<line x1="105.86" y1="443.70" x2="105.86" y2="445.90" stroke="#222" stroke-width="1.1" />
<line x1="183.39" y1="443.70" x2="183.39" y2="445.90" stroke="#222" stroke-width="1.1" />
<line x1="260.92" y1="443.70" x2="260.92" y2="445.90" stroke="#222" stroke-width="1.1" />
<g transform="translate(182.90,473.80) scale(1,1.04)"><text x="0" y="0" font-size="13.0" font-weight="bold" text-anchor="middle" fill="#111" >Irradiation time (min)</text></g>
<text x="18.3" y="368.6" font-size="13.3" font-weight="bold" fill="#111" transform="rotate(-90 18.3 368.6)">C/C<tspan dy="3.2" font-size="8.5">0</tspan></text>
<text x="1.40" y="259.20" font-size="21.0" font-weight="bold" text-anchor="start" fill="#000" >(c)</text>
<line x1="63.30" y1="355.50" x2="87.10" y2="355.50" stroke="#ff00ff" stroke-width="1.9" />
<polygon points="75.10,351.60 79.19,355.50 75.10,359.40 71.00,355.50" fill="#ff00ff"/>
<text x="90.50" y="358.40" font-size="10.5" font-weight="bold" text-anchor="start" fill="#111" >Blank</text>
<line x1="63.30" y1="370.10" x2="87.10" y2="370.10" stroke="#000000" stroke-width="1.9" />
<rect x="72.40" y="367.40" width="5.40" height="5.40" fill="#000000"/>
<text x="90.50" y="373.00" font-size="10.5" font-weight="bold" text-anchor="start" fill="#111" >TiO<tspan dy="3.3" font-size="6.3">2</tspan></text>
<line x1="63.30" y1="387.30" x2="87.10" y2="387.30" stroke="#008000" stroke-width="1.9" />
<polygon points="79.15,387.30 72.27,383.45 72.27,391.15" fill="#008000"/>
<text x="90.50" y="390.20" font-size="10.5" font-weight="bold" text-anchor="start" fill="#111" >TZ-5</text>
<line x1="63.30" y1="400.70" x2="87.10" y2="400.70" stroke="#ff0000" stroke-width="1.9" />
<circle cx="75.10" cy="400.70" r="2.85" fill="#ff0000"/>
<text x="90.50" y="403.60" font-size="10.5" font-weight="bold" text-anchor="start" fill="#111" >TZ-10</text>
<line x1="63.30" y1="414.60" x2="87.10" y2="414.60" stroke="#800080" stroke-width="1.9" />
<polygon points="75.10,418.65 78.95,411.77 71.25,411.77" fill="#800080"/>
<text x="90.50" y="417.50" font-size="10.5" font-weight="bold" text-anchor="start" fill="#111" >TZ-20</text>
<line x1="63.30" y1="428.10" x2="87.10" y2="428.10" stroke="#0000ff" stroke-width="1.9" />
<polygon points="75.10,424.05 78.95,430.94 71.25,430.94" fill="#0000ff"/>
<text x="90.50" y="431.00" font-size="10.5" font-weight="bold" text-anchor="start" fill="#111" >P25</text>
<polyline points="414.60,439.20 662.60,438.80" fill="none" stroke="#ff00ff" stroke-width="1.7" stroke-linejoin="round" stroke-linecap="round" />
<polyline points="418.00,444.60 662.60,381.00" fill="none" stroke="#000000" stroke-width="1.7" stroke-linejoin="round" stroke-linecap="round" />
<polyline points="430.00,444.60 662.60,351.80" fill="none" stroke="#008000" stroke-width="1.7" stroke-linejoin="round" stroke-linecap="round" />
<polyline points="414.60,442.50 662.60,366.40" fill="none" stroke="#800080" stroke-width="1.7" stroke-linejoin="round" stroke-linecap="round" />
<polyline points="414.60,441.50 662.60,307.30" fill="none" stroke="#0000ff" stroke-width="1.7" stroke-linejoin="round" stroke-linecap="round" />
<polyline points="414.60,440.80 662.60,262.00" fill="none" stroke="#ff0000" stroke-width="1.7" stroke-linejoin="round" stroke-linecap="round" />
<rect x="411.99" y="437.39" width="5.22" height="5.22" fill="#000000"/>
<rect x="489.66" y="423.89" width="5.22" height="5.22" fill="#000000"/>
<rect x="567.33" y="406.61" width="5.22" height="5.22" fill="#000000"/>
<rect x="645.00" y="385.01" width="5.22" height="5.22" fill="#000000"/>
<polygon points="418.52,440.00 411.86,436.28 411.86,443.72" fill="#008000"/>
<polygon points="496.19,423.26 489.53,419.54 489.53,426.98" fill="#008000"/>
<polygon points="573.86,396.80 567.20,393.08 567.20,400.52" fill="#008000"/>
<line x1="647.61" y1="363.86" x2="647.61" y2="369.26" stroke="#008000" stroke-width="1.3" />
<line x1="645.01" y1="363.86" x2="650.21" y2="363.86" stroke="#008000" stroke-width="1.3" />
<line x1="645.01" y1="369.26" x2="650.21" y2="369.26" stroke="#008000" stroke-width="1.3" />
<polygon points="651.52,366.56 644.87,362.84 644.87,370.28" fill="#008000"/>
<polygon points="414.60,443.92 418.32,437.26 410.88,437.26" fill="#800080"/>
<line x1="492.27" y1="417.48" x2="492.27" y2="420.72" stroke="#800080" stroke-width="1.3" />
<line x1="489.67" y1="417.48" x2="494.87" y2="417.48" stroke="#800080" stroke-width="1.3" />
<line x1="489.67" y1="420.72" x2="494.87" y2="420.72" stroke="#800080" stroke-width="1.3" />
<polygon points="492.27,423.02 495.99,416.36 488.55,416.36" fill="#800080"/>
<line x1="569.94" y1="396.53" x2="569.94" y2="401.93" stroke="#800080" stroke-width="1.3" />
<line x1="567.34" y1="396.53" x2="572.54" y2="396.53" stroke="#800080" stroke-width="1.3" />
<line x1="567.34" y1="401.93" x2="572.54" y2="401.93" stroke="#800080" stroke-width="1.3" />
<polygon points="569.94,403.15 573.66,396.49 566.22,396.49" fill="#800080"/>
<line x1="647.61" y1="372.50" x2="647.61" y2="377.90" stroke="#800080" stroke-width="1.3" />
<line x1="645.01" y1="372.50" x2="650.21" y2="372.50" stroke="#800080" stroke-width="1.3" />
<line x1="645.01" y1="377.90" x2="650.21" y2="377.90" stroke="#800080" stroke-width="1.3" />
<polygon points="647.61,379.12 651.33,372.46 643.89,372.46" fill="#800080"/>
<polygon points="414.60,436.08 418.32,442.74 410.88,442.74" fill="#0000ff"/>
<line x1="492.27" y1="400.90" x2="492.27" y2="406.30" stroke="#0000ff" stroke-width="1.3" />
<line x1="489.67" y1="400.90" x2="494.87" y2="400.90" stroke="#0000ff" stroke-width="1.3" />
<line x1="489.67" y1="406.30" x2="494.87" y2="406.30" stroke="#0000ff" stroke-width="1.3" />
<polygon points="492.27,399.69 495.99,406.34 488.55,406.34" fill="#0000ff"/>
<line x1="569.94" y1="356.84" x2="569.94" y2="362.24" stroke="#0000ff" stroke-width="1.3" />
<line x1="567.34" y1="356.84" x2="572.54" y2="356.84" stroke="#0000ff" stroke-width="1.3" />
<line x1="567.34" y1="362.24" x2="572.54" y2="362.24" stroke="#0000ff" stroke-width="1.3" />
<polygon points="569.94,355.62 573.66,362.28 566.22,362.28" fill="#0000ff"/>
<line x1="647.61" y1="312.56" x2="647.61" y2="317.96" stroke="#0000ff" stroke-width="1.3" />
<line x1="645.01" y1="312.56" x2="650.21" y2="312.56" stroke="#0000ff" stroke-width="1.3" />
<line x1="645.01" y1="317.96" x2="650.21" y2="317.96" stroke="#0000ff" stroke-width="1.3" />
<polygon points="647.61,311.34 651.33,318.00 643.89,318.00" fill="#0000ff"/>
<circle cx="414.60" cy="440.00" r="2.75" fill="#ff0000"/>
<line x1="492.27" y1="386.92" x2="492.27" y2="389.08" stroke="#ff0000" stroke-width="1.3" />
<line x1="489.67" y1="386.92" x2="494.87" y2="386.92" stroke="#ff0000" stroke-width="1.3" />
<line x1="489.67" y1="389.08" x2="494.87" y2="389.08" stroke="#ff0000" stroke-width="1.3" />
<circle cx="492.27" cy="388.00" r="2.75" fill="#ff0000"/>
<line x1="569.94" y1="321.20" x2="569.94" y2="335.24" stroke="#ff0000" stroke-width="1.3" />
<line x1="567.34" y1="321.20" x2="572.54" y2="321.20" stroke="#ff0000" stroke-width="1.3" />
<line x1="567.34" y1="335.24" x2="572.54" y2="335.24" stroke="#ff0000" stroke-width="1.3" />
<circle cx="569.94" cy="328.22" r="2.75" fill="#ff0000"/>
<line x1="647.61" y1="266.66" x2="647.61" y2="281.78" stroke="#ff0000" stroke-width="1.3" />
<line x1="645.01" y1="266.66" x2="650.21" y2="266.66" stroke="#ff0000" stroke-width="1.3" />
<line x1="645.01" y1="281.78" x2="650.21" y2="281.78" stroke="#ff0000" stroke-width="1.3" />
<circle cx="647.61" cy="274.22" r="2.75" fill="#ff0000"/>
<polygon points="414.60,436.23 418.56,440.00 414.60,443.77 410.64,440.00" fill="#ff00ff"/>
<polygon points="492.27,435.69 496.23,439.46 492.27,443.23 488.31,439.46" fill="#ff00ff"/>
<polygon points="569.94,435.15 573.90,438.92 569.94,442.69 565.98,438.92" fill="#ff00ff"/>
<polygon points="647.61,435.15 651.57,438.92 647.61,442.69 643.65,438.92" fill="#ff00ff"/>
<line x1="400.00" y1="251.20" x2="662.60" y2="251.20" stroke="#222" stroke-width="1.45" />
<line x1="400.00" y1="444.90" x2="662.60" y2="444.90" stroke="#222" stroke-width="1.45" />
<line x1="400.00" y1="250.40" x2="400.00" y2="445.70" stroke="#222" stroke-width="1.45" />
<line x1="662.60" y1="250.40" x2="662.60" y2="445.70" stroke="#222" stroke-width="1.45" />
<line x1="395.10" y1="440.00" x2="400.00" y2="440.00" stroke="#222" stroke-width="1.3" />
<text x="392.60" y="444.30" font-size="12.3" font-weight="bold" text-anchor="end" fill="#111" >0.0</text>
<line x1="395.10" y1="413.00" x2="400.00" y2="413.00" stroke="#222" stroke-width="1.3" />
<text x="392.60" y="417.30" font-size="12.3" font-weight="bold" text-anchor="end" fill="#111" >0.5</text>
<line x1="395.10" y1="386.00" x2="400.00" y2="386.00" stroke="#222" stroke-width="1.3" />
<text x="392.60" y="390.30" font-size="12.3" font-weight="bold" text-anchor="end" fill="#111" >1.0</text>
<line x1="395.10" y1="359.00" x2="400.00" y2="359.00" stroke="#222" stroke-width="1.3" />
<text x="392.60" y="363.30" font-size="12.3" font-weight="bold" text-anchor="end" fill="#111" >1.5</text>
<line x1="395.10" y1="332.00" x2="400.00" y2="332.00" stroke="#222" stroke-width="1.3" />
<text x="392.60" y="336.30" font-size="12.3" font-weight="bold" text-anchor="end" fill="#111" >2.0</text>
<line x1="395.10" y1="305.00" x2="400.00" y2="305.00" stroke="#222" stroke-width="1.3" />
<text x="392.60" y="309.30" font-size="12.3" font-weight="bold" text-anchor="end" fill="#111" >2.5</text>
<line x1="395.10" y1="278.00" x2="400.00" y2="278.00" stroke="#222" stroke-width="1.3" />
<text x="392.60" y="282.30" font-size="12.3" font-weight="bold" text-anchor="end" fill="#111" >3.0</text>
<line x1="395.10" y1="251.00" x2="400.00" y2="251.00" stroke="#222" stroke-width="1.3" />
<text x="392.60" y="255.30" font-size="12.3" font-weight="bold" text-anchor="end" fill="#111" >3.5</text>
<line x1="397.40" y1="426.50" x2="400.00" y2="426.50" stroke="#222" stroke-width="1.1" />
<line x1="397.40" y1="399.50" x2="400.00" y2="399.50" stroke="#222" stroke-width="1.1" />
<line x1="397.40" y1="372.50" x2="400.00" y2="372.50" stroke="#222" stroke-width="1.1" />
<line x1="397.40" y1="345.50" x2="400.00" y2="345.50" stroke="#222" stroke-width="1.1" />
<line x1="397.40" y1="318.50" x2="400.00" y2="318.50" stroke="#222" stroke-width="1.1" />
<line x1="397.40" y1="291.50" x2="400.00" y2="291.50" stroke="#222" stroke-width="1.1" />
<line x1="397.40" y1="264.50" x2="400.00" y2="264.50" stroke="#222" stroke-width="1.1" />
<line x1="414.60" y1="444.90" x2="414.60" y2="448.70" stroke="#222" stroke-width="1.3" />
<text x="414.10" y="460.60" font-size="12.3" font-weight="bold" text-anchor="middle" fill="#111" >0</text>
<line x1="492.27" y1="444.90" x2="492.27" y2="448.70" stroke="#222" stroke-width="1.3" />
<text x="491.77" y="460.60" font-size="12.3" font-weight="bold" text-anchor="middle" fill="#111" >10</text>
<line x1="569.94" y1="444.90" x2="569.94" y2="448.70" stroke="#222" stroke-width="1.3" />
<text x="569.44" y="460.60" font-size="12.3" font-weight="bold" text-anchor="middle" fill="#111" >20</text>
<line x1="647.61" y1="444.90" x2="647.61" y2="448.70" stroke="#222" stroke-width="1.3" />
<text x="647.11" y="460.60" font-size="12.3" font-weight="bold" text-anchor="middle" fill="#111" >30</text>
<line x1="453.44" y1="444.90" x2="453.44" y2="447.10" stroke="#222" stroke-width="1.1" />
<line x1="531.11" y1="444.90" x2="531.11" y2="447.10" stroke="#222" stroke-width="1.1" />
<line x1="608.78" y1="444.90" x2="608.78" y2="447.10" stroke="#222" stroke-width="1.1" />
<g transform="translate(531.30,476.60) scale(1,1.04)"><text x="0" y="0" font-size="13.3" font-weight="bold" text-anchor="middle" fill="#111" >Irradiation time (min)</text></g>
<text x="364.2" y="366.3" font-size="13.3" font-weight="bold" fill="#111" transform="rotate(-90 364.2 366.3)">ln(C/C<tspan dy="3.2" font-size="8.5">0</tspan><tspan dy="-3.2">)</tspan></text>
<text x="344.60" y="261.00" font-size="21.5" font-weight="normal" text-anchor="start" fill="#000" stroke="#000" stroke-width="0.45" letter-spacing="0.6">(d)</text>
<polygon points="415.50,261.00 419.60,264.90 415.50,268.80 411.40,264.90" fill="#ff00ff"/>
<text x="429.60" y="268.60" font-size="10.2" font-weight="bold" text-anchor="start" fill="#111" >Blank</text>
<rect x="412.80" y="275.70" width="5.40" height="5.40" fill="#000000"/>
<text x="429.60" y="282.10" font-size="10.2" font-weight="bold" text-anchor="start" fill="#111" >TiO<tspan dy="3.3" font-size="6.3">2</tspan></text>
<polygon points="419.55,294.60 412.67,290.75 412.67,298.45" fill="#008000"/>
<text x="429.60" y="298.30" font-size="10.2" font-weight="bold" text-anchor="start" fill="#111" >TZ-5</text>
<circle cx="415.50" cy="308.00" r="2.85" fill="#ff0000"/>
<text x="429.60" y="311.70" font-size="10.2" font-weight="bold" text-anchor="start" fill="#111" >TZ-10</text>
<polygon points="415.50,325.55 419.35,318.67 411.65,318.67" fill="#800080"/>
<text x="429.60" y="325.20" font-size="10.2" font-weight="bold" text-anchor="start" fill="#111" >TZ-20</text>
<polygon points="415.50,330.55 419.35,337.44 411.65,337.44" fill="#0000ff"/>
<text x="429.60" y="338.30" font-size="10.2" font-weight="bold" text-anchor="start" fill="#111" >P25</text>
</svg>
</body></html>
